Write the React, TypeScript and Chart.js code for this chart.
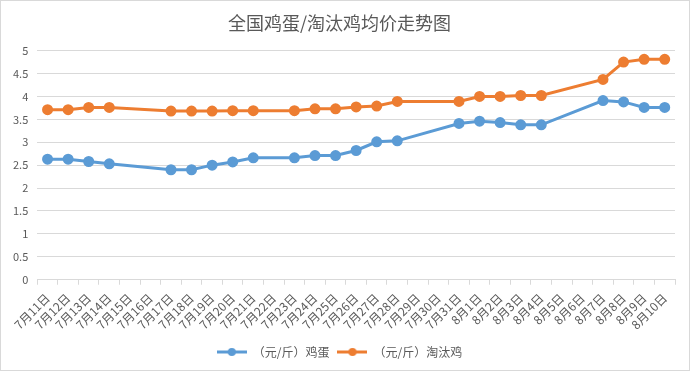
import React, { useEffect, useRef } from "react";
import { Chart, registerables } from "chart.js";

Chart.register(...registerables);

const categories = [
  "7月11日", "7月12日", "7月13日", "7月14日", "7月15日", "7月16日", "7月17日", "7月18日",
  "7月19日", "7月20日", "7月21日", "7月22日", "7月23日", "7月24日", "7月25日", "7月26日",
  "7月27日", "7月28日", "7月29日", "7月30日", "7月31日", "8月1日", "8月2日", "8月3日",
  "8月4日", "8月5日", "8月6日", "8月7日", "8月8日", "8月9日", "8月10日",
];

const eggPrices = [
  2.63, 2.63, 2.58, 2.53, null, null, 2.4, 2.4,
  2.5, 2.57, 2.66, null, 2.66, 2.71, 2.71, 2.82,
  3.01, 3.03, null, null, 3.41, 3.46, 3.43, 3.38,
  3.38, null, null, 3.91, 3.88, 3.76, 3.76,
];

const henPrices = [
  3.71, 3.71, 3.76, 3.76, null, null, 3.68, 3.68,
  3.68, 3.69, 3.69, null, 3.69, 3.73, 3.73, 3.77,
  3.79, 3.89, null, null, 3.89, 4.0, 4.0, 4.02,
  4.02, null, null, 4.37, 4.75, 4.81, 4.81,
];

const seriesNames = ["（元/斤）鸡蛋", "（元/斤）淘汰鸡"];
const seriesColors = ["#5B9BD5", "#ED7D31"];
const titleText = "全国鸡蛋/淘汰鸡均价走势图";

const FONT = "'Noto Sans CJK SC', 'Noto Sans', sans-serif";

function makeLegendIcon(color: string): HTMLCanvasElement {
  const c = document.createElement("canvas");
  c.width = 30;
  c.height = 10;
  const ctx = c.getContext("2d")!;
  ctx.strokeStyle = color;
  ctx.lineWidth = 3;
  ctx.beginPath();
  ctx.moveTo(0, 5);
  ctx.lineTo(30, 5);
  ctx.stroke();
  ctx.fillStyle = color;
  ctx.beginPath();
  ctx.arc(15, 5, 4, 0, Math.PI * 2);
  ctx.fill();
  return c;
}

export default function App() {
  const ref = useRef<HTMLCanvasElement | null>(null);

  useEffect(() => {
    document.body.style.margin = "0";
    if (!ref.current) return;
    const icons = seriesColors.map(makeLegendIcon);
    const chart = new Chart(ref.current, {
      type: "line",
      data: {
        labels: categories,
        datasets: [
          {
            label: seriesNames[0],
            data: eggPrices,
            borderColor: seriesColors[0],
            backgroundColor: seriesColors[0],
            borderWidth: 3,
            pointRadius: 4,
            pointHoverRadius: 4,
            spanGaps: true,
            tension: 0,
          },
          {
            label: seriesNames[1],
            data: henPrices,
            borderColor: seriesColors[1],
            backgroundColor: seriesColors[1],
            borderWidth: 3,
            pointRadius: 4,
            pointHoverRadius: 4,
            spanGaps: true,
            tension: 0,
          },
        ],
      },
      options: {
        animation: false,
        responsive: false,
        maintainAspectRatio: false,
        layout: { padding: { left: 3, right: 14, top: 0, bottom: 2 } },
        plugins: {
          title: {
            display: true,
            text: titleText,
            color: "#595959",
            font: { family: FONT, size: 18, weight: "normal" },
            padding: { top: 11, bottom: 17 },
          },
          legend: {
            position: "bottom",
            labels: {
              usePointStyle: true,
              pointStyleWidth: 30,
              color: "#595959",
              font: { family: FONT, size: 12 },
              padding: 8,
              generateLabels: (ch: any) => {
                const items = Chart.defaults.plugins.legend.labels.generateLabels(ch);
                return items.map((it: any, i: number) => ({ ...it, pointStyle: icons[i] }));
              },
            },
          },
          tooltip: { enabled: false },
        },
        scales: {
          x: {
            offset: true,
            grid: {
              display: true,
              drawOnChartArea: false,
              drawTicks: true,
              tickLength: 5,
              offset: true,
              color: "#d9d9d9",
            },
            border: { display: true, color: "#d9d9d9" },
            ticks: {
              autoSkip: false,
              minRotation: 45,
              maxRotation: 45,
              color: "#595959",
              font: { family: FONT, size: 12 },
              padding: 6,
            },
          },
          y: {
            min: 0,
            max: 5,
            ticks: {
              stepSize: 0.5,
              color: "#595959",
              font: { family: FONT, size: 11 },
              padding: 9,
              callback: (v: any) => String(Number(v)),
            },
            grid: { color: "#d9d9d9", drawTicks: false },
            border: { display: false },
          },
        },
      },
    });
    return () => chart.destroy();
  }, []);

  return (
    <div
      style={{
        width: 690,
        height: 371,
        boxSizing: "border-box",
        border: "1px solid #d9d9d9",
        background: "#fff",
        position: "relative",
      }}
    >
      <canvas ref={ref} width={688} height={369} style={{ display: "block" }} />
    </div>
  );
}
